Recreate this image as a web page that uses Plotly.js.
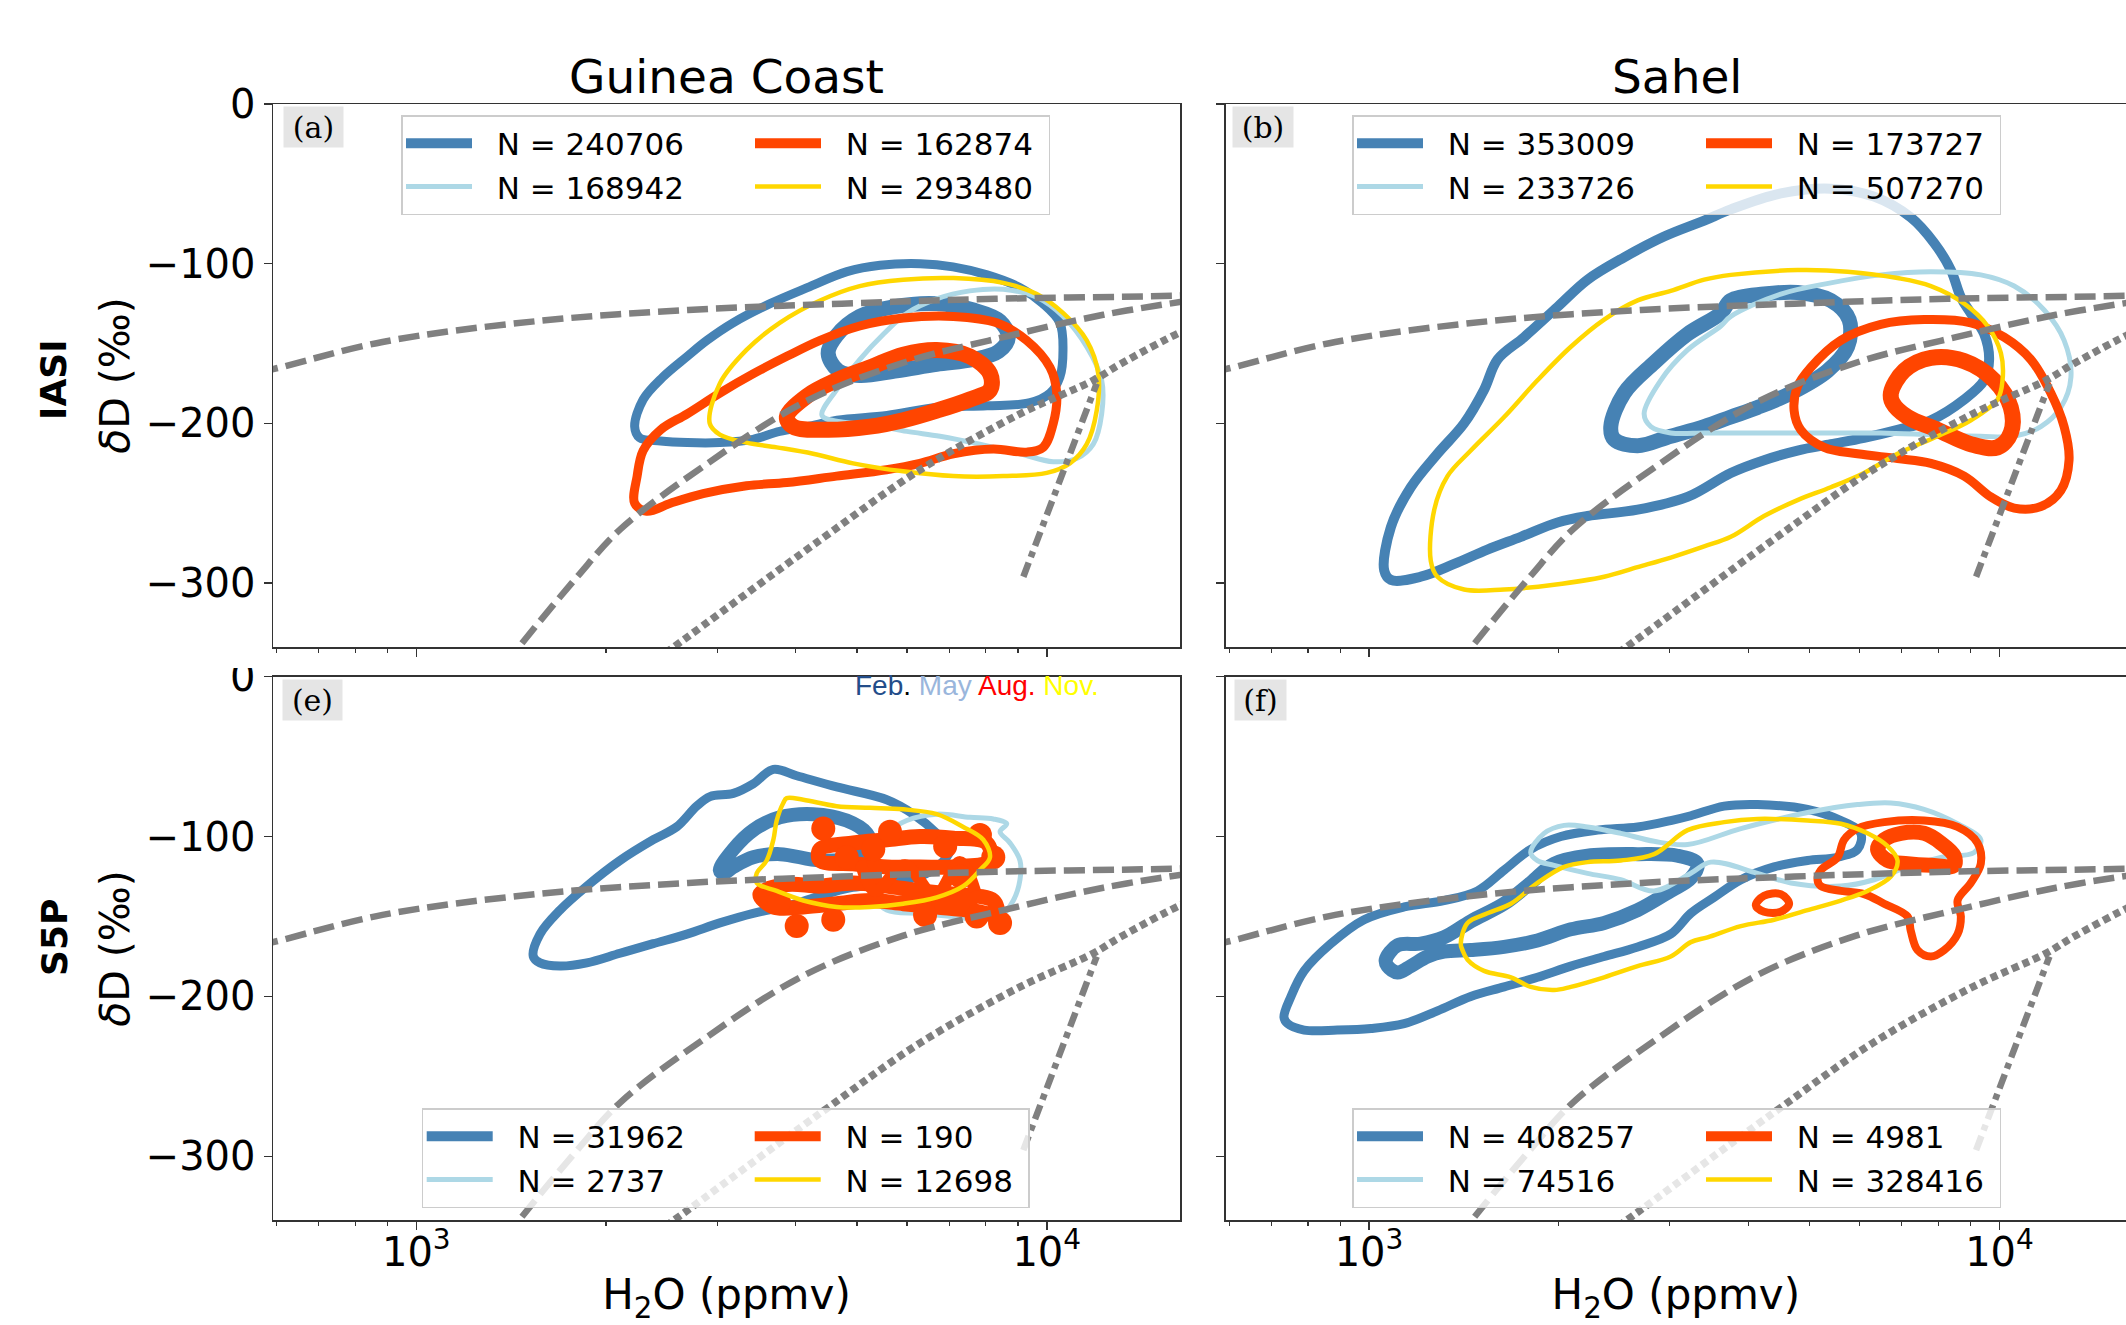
<!DOCTYPE html>
<html><head><meta charset="utf-8">
<script src="https://cdn.plot.ly/plotly-3.0.1.min.js"></script>
<style>html,body{margin:0;padding:0;background:#fff}</style>
</head><body>
<div id="chart" style="width:2126px;height:1325px"></div>
<script>
// ---------------- DATA (H2O in ppmv, deltaD in permil) ----------------
const seasons = ['Feb.', 'May', 'Aug.', 'Nov.'];
const legendA = ['N = 240706', 'N = 168942', 'N = 162874', 'N = 293480'];
const legendB = ['N = 353009', 'N = 233726', 'N = 173727', 'N = 507270'];
const legendE = ['N = 31962', 'N = 2737', 'N = 190', 'N = 12698'];
const legendF = ['N = 408257', 'N = 74516', 'N = 4981', 'N = 328416'];
const xTickVals = [1000, 10000];
const xTickText = ['10<sup>3</sup>', '10<sup>4</sup>'];
const xMinorVals = [600, 700, 800, 900, 2000, 3000, 4000, 5000, 6000, 7000, 8000, 9000, 20000];
const yTickVals = [0, -100, -200, -300];

// reference curves (grey)
const curveDashUpper_H2O = [560, 593, 884, 1550, 2700, 4730, 8280, 16200, 17000];
const curveDashUpper_dD  = [-168, -166, -149, -136, -129, -125, -122, -120, -119.5];
const curveDashLower_H2O = [1380, 1455, 1800, 2110, 2850, 4110, 5920, 8530, 12290, 16270, 17000];
const curveDashLower_dD  = [-352, -340, -296, -266, -227, -187, -162, -146, -132, -124, -123];
const curveDotted_H2O = [2320, 2560, 4370, 6300, 9070, 11850, 13060, 16270, 17000];
const curveDotted_dD  = [-352, -340, -273, -229, -194, -173, -163, -143, -140];
const curveDashDot_H2O = [9180, 12000];
const curveDashDot_dD  = [-296, -175];

// (a) IASI Guinea Coast
const a_feb_outer_H2O = [2220, 2290, 2460, 2690, 2890, 3180, 3640, 4170, 4820, 5440, 6300, 7100, 8040, 9070, 9860, 10490, 10610, 10490, 10120, 9410, 8040, 6700, 5580, 4650, 4170, 3770, 3420, 3030, 2690, 2440, 2260, 2220];
const a_feb_outer_dD  = [-202, -185, -171, -158, -148, -137, -125, -115, -105, -101, -100, -102, -107, -115, -125, -137, -154, -171, -181, -187, -189, -190, -195, -198, -202, -205, -210, -212, -212, -211, -209, -202];
const a_feb_inner_H2O = [4500, 4640, 5050, 5710, 6690, 7650, 8430, 8690, 8380, 7650, 6690, 5780, 5050, 4670, 4500];
const a_feb_inner_dD  = [-156, -145, -133, -127, -125, -129, -136, -146, -155, -160, -163, -167, -170, -167, -156];
const a_may_H2O = [4400, 4640, 5050, 5510, 6000, 6690, 7550, 8530, 9640, 10620, 11570, 12220, 12220, 11850, 11150, 10240, 9070, 7830, 6770, 6000, 5310, 4700, 4400];
const a_may_dD  = [-195, -179, -160, -144, -131, -122, -117, -116, -121, -133, -152, -173, -194, -213, -222, -224, -219, -213, -208, -205, -201, -199, -195];
const a_aug_outer_H2O = [2220, 2240, 2290, 2440, 2690, 3030, 3420, 3870, 4370, 5050, 5920, 7110, 8330, 9290, 10120, 10370, 10240, 9870, 9290, 8230, 7110, 6290, 5570, 4640, 3870, 3340, 2850, 2530, 2320, 2220];
const a_aug_outer_dD  = [-250, -233, -217, -204, -194, -181, -169, -158, -148, -139, -134, -133, -137, -148, -165, -181, -200, -215, -218, -216, -219, -225, -229, -233, -237, -239, -244, -250, -255, -250];
const a_aug_inner_H2O = [3870, 4160, 4640, 5240, 5920, 6690, 7550, 8130, 8130, 7550, 6690, 5920, 5240, 4480, 3960, 3870];
const a_aug_inner_dD  = [-196, -183, -173, -165, -157, -154, -158, -169, -179, -185, -192, -198, -202, -204, -202, -196];
const a_nov_H2O = [2920, 3030, 3340, 3770, 4370, 5050, 5920, 7110, 8530, 9640, 10620, 11570, 12070, 12000, 11570, 10880, 10000, 8530, 7110, 5920, 4930, 4260, 3730, 3340, 3030, 2920];
const a_nov_dD  = [-200, -175, -154, -137, -123, -114, -110, -109, -112, -119, -131, -148, -169, -192, -213, -225, -231, -233, -233, -230, -225, -219, -215, -212, -207, -200];

// (b) IASI Sahel
const b_feb_outer_H2O = [1057, 1083, 1165, 1284, 1415, 1522, 1599, 1762, 1991, 2221, 2539, 2938, 3401, 3748, 4499, 5401, 6326, 7232, 7877, 8373, 8684, 9006, 9454, 9627, 9454, 8790, 7783, 6891, 6098, 5401, 4782, 4232, 3748, 3200, 2667, 2221, 1991, 1741, 1541, 1365, 1208, 1083, 1057];
const b_feb_outer_dD  = [-292, -265, -240, -219, -200, -179, -160, -146, -127, -110, -96, -83, -73, -66, -56, -53, -58, -71, -87, -104, -121, -131, -144, -160, -173, -185, -198, -204, -209, -213, -217, -223, -231, -246, -254, -258, -262, -271, -279, -288, -296, -298, -292];
const b_feb_inner_H2O = [2418, 2539, 2833, 3201, 3614, 3748, 4232, 4782, 5401, 5774, 5741, 5337, 4667, 4132, 3748, 3401, 3010, 2667, 2448, 2418];
const b_feb_inner_dD  = [-202, -181, -162, -144, -131, -123, -119, -118, -123, -135, -152, -167, -181, -190, -196, -202, -208, -214, -210, -202];
const b_may_H2O = [2731, 2902, 3201, 3614, 3748, 4499, 5401, 6482, 7783, 9340, 10550, 11770, 12660, 12980, 12510, 11630, 10550, 9340, 7783, 6482, 5401, 4499, 3748, 3401, 3010, 2799, 2731];
const b_may_dD  = [-194, -173, -154, -139, -133, -119, -112, -107, -105, -107, -114, -129, -148, -171, -190, -202, -208, -208, -207, -206, -206, -206, -206, -206, -206, -202, -194];
const b_aug_outer_H2O = [4723, 4782, 5019, 5602, 6482, 7593, 9006, 10170, 11210, 12060, 12660, 12890, 12510, 11630, 10550, 9687, 8790, 7783, 6891, 5954, 5271, 4839, 4723];
const b_aug_outer_dD  = [-192, -177, -165, -148, -138, -135, -137, -146, -160, -181, -202, -223, -242, -252, -253, -246, -233, -225, -222, -219, -215, -204, -192];
const b_aug_inner_H2O = [6725, 7059, 7783, 8790, 9804, 10420, 10420, 9927, 9006, 7976, 7147, 6767, 6725];
const b_aug_inner_dD  = [-181, -167, -159, -161, -173, -190, -206, -215, -213, -204, -196, -187, -181];
const b_nov_H2O = [1253, 1269, 1332, 1450, 1638, 1850, 2090, 2360, 2667, 3010, 3401, 3748, 4782, 5741, 6891, 7783, 8790, 9572, 10050, 10110, 9927, 9006, 7976, 6891, 6098, 5401, 4782, 4232, 3748, 3401, 3010, 2667, 2360, 1966, 1638, 1415, 1284, 1253];
const b_nov_dD  = [-286, -254, -233, -217, -196, -173, -152, -135, -123, -117, -110, -107, -104, -105, -109, -114, -125, -139, -156, -173, -185, -198, -208, -219, -231, -240, -248, -258, -271, -277, -284, -290, -296, -301, -304, -304, -296, -286];

// (e) S5P Guinea Coast
const e_feb_outer_H2O = [1533, 1571, 1690, 1864, 2104, 2376, 2588, 2784, 2923, 3183, 3422, 3684, 4012, 4643, 5574, 6142, 6691, 7022, 6527, 5439, 4874, 4368, 3915, 3422, 3030, 2686, 2376, 2104, 1864, 1690, 1571, 1533];
const e_feb_outer_dD  = [-175, -161, -146, -131, -115, -102, -94, -81, -75, -73, -67, -58, -62, -69, -77, -86, -98, -108, -122, -130, -132, -137, -143, -148, -154, -161, -167, -173, -179, -181, -179, -175];
const e_feb_inner_H2O = [3030, 3183, 3422, 3774, 4263, 4815, 5181, 5243, 4933, 4368, 3774, 3422, 3183, 3068, 3030];
const e_feb_inner_dD  = [-121, -108, -96, -88, -86, -90, -98, -106, -113, -115, -111, -113, -119, -123, -121];
const e_may_H2O = [5574, 5995, 6691, 7554, 8225, 8639, 8431, 8743, 9068, 9068, 8850, 8431, 7834, 7108, 6290, 5574, 5306, 5243, 5373, 5574];
const e_may_dD  = [-98, -90, -86, -88, -89, -92, -97, -104, -115, -127, -140, -150, -152, -150, -148, -146, -136, -121, -106, -98];
const e_aug_loop1_H2O = [4368, 4933, 5574, 6290, 7108, 8029, 8126, 7108, 6290, 5574, 4933, 4368, 4368];
const e_aug_loop1_dD  = [-108, -104, -102, -100, -101, -104, -115, -119, -119, -119, -117, -115, -108];
const e_aug_loop2_H2O = [3508, 3868, 4368, 4933, 5574, 6290, 7108, 8225, 8328, 7554, 6691, 5921, 5243, 4643, 4110, 3684, 3508];
const e_aug_loop2_dD  = [-136, -130, -131, -129, -131, -134, -136, -140, -148, -146, -144, -142, -140, -142, -144, -144, -136];
const e_aug_loop3_H2O = [5054, 5340, 5957, 6649, 7286, 7694];
const e_aug_loop3_dD  = [-115, -134, -118, -137, -116, -134];
const e_aug_spots_H2O = [4421, 5641, 7834, 4012, 4585, 6411, 7741, 8431, 3639, 8225, 4815, 5306, 3760, 6900, 7300];
const e_aug_spots_dD  = [-95, -97, -99, -156, -152, -149, -150, -154, -136, -113, -113, -108, -141, -106, -125];
const e_nov_H2O = [3820, 3868, 4110, 4643, 5243, 5921, 6691, 7371, 7930, 8126, 7834, 7371, 6691, 5921, 5243, 4643, 4110, 3729, 3467, 3467, 3595, 3684, 3729, 3820];
const e_nov_dD  = [-79, -76, -77, -81, -82, -83, -86, -94, -102, -113, -121, -131, -138, -142, -144, -144, -140, -134, -129, -123, -115, -102, -90, -79];

// (f) S5P Sahel
const f_feb_outer_H2O = [733, 752, 789, 870, 982, 1137, 1315, 1486, 1638, 1805, 2015, 2304, 2667, 3010, 3239, 3658, 4132, 4961, 5602, 6026, 5954, 5535, 4961, 4390, 3889, 3527, 3239, 3010, 2667, 2360, 2090, 1850, 1638, 1450, 1284, 1137, 1007, 891, 789, 743, 733];
const f_feb_outer_dD  = [-213, -200, -184, -167, -152, -144, -140, -134, -121, -108, -100, -96, -94, -90, -87, -81, -80, -83, -90, -98, -108, -113, -115, -119, -127, -138, -148, -161, -169, -175, -181, -188, -194, -200, -209, -217, -220, -221, -221, -217, -213];
const f_feb_inner_H2O = [1063, 1110, 1208, 1315, 1450, 1638, 1805, 1966, 2221, 2667, 3085, 3319, 3239, 3010, 2667, 2360, 2090, 1850, 1638, 1450, 1315, 1238, 1165, 1110, 1070, 1063];
const f_feb_inner_dD  = [-177, -168, -167, -163, -153, -142, -129, -117, -112, -111, -112, -117, -126, -134, -146, -154, -158, -165, -169, -171, -172, -175, -181, -185, -181, -177];
const f_may_H2O = [1805, 1895, 2039, 2221, 2508, 2833, 3201, 3889, 4961, 5954, 6725, 7593, 8579, 9340, 9115, 8071, 7147, 6326, 5602, 4667, 4132, 3484, 3239, 2833, 2508, 2221, 1966, 1850, 1805];
const f_may_dD  = [-110, -98, -93, -94, -98, -103, -105, -95, -85, -80, -79, -83, -92, -102, -110, -113, -119, -127, -131, -129, -123, -116, -123, -134, -127, -123, -118, -115, -110];
const f_aug_outer_H2O = [5144, 5207, 5535, 5669, 5954, 6561, 7593, 8579, 9228, 9340, 9006, 8579, 8684, 8579, 8170, 7783, 7413, 7232, 7147, 6561, 6098, 5602, 5207, 5144];
const f_aug_outer_dD  = [-127, -121, -113, -102, -95, -91, -90, -94, -104, -117, -129, -140, -150, -161, -171, -175, -171, -159, -150, -142, -136, -134, -131, -127];
const f_aug_inner_H2O = [6405, 6561, 6976, 7593, 8071, 8472, 8472, 7783, 7147, 6643, 6405];
const f_aug_inner_dD  = [-108, -102, -98, -98, -104, -112, -118, -118, -117, -115, -108];
const f_aug_small_H2O = [4107, 4232, 4499, 4637, 4499, 4232, 4107];
const f_aug_small_dD  = [-143, -137, -136, -142, -147, -147, -143];
const f_nov_H2O = [1398, 1433, 1541, 1679, 1850, 2039, 2221, 2508, 2833, 3201, 3658, 4132, 4961, 5602, 6175, 6643, 6891, 6725, 6175, 5602, 4961, 4390, 3889, 3443, 3239, 3010, 2667, 2360, 2090, 1966, 1805, 1679, 1522, 1433, 1407, 1398];
const f_nov_dD  = [-167, -154, -148, -142, -129, -119, -116, -115, -111, -96, -91, -89, -90, -92, -98, -106, -115, -125, -134, -140, -146, -152, -156, -163, -166, -175, -181, -188, -194, -196, -194, -188, -184, -177, -171, -167];

// ---------------- STYLE ----------------
const C_FEB = '#4682B4', C_MAY = '#ADD8E6', C_AUG = '#FF4500', C_NOV = '#FFD700', C_GREY = '#808080';
const W = 2126, H = 1325;
const FONT = 'DejaVu Sans, Liberation Sans, sans-serif';
const GAP = '\u00A0\u00A0';

const panels = {
  a: {x: 'x',  y: 'y',  legend: 'legend',  id: 'a', lw: [268, 217]},
  b: {x: 'x2', y: 'y2', legend: 'legend2', id: 'b', lw: [268, 217]},
  e: {x: 'x3', y: 'y3', legend: 'legend3', id: 'e', lw: [247, 197]},
  f: {x: 'x4', y: 'y4', legend: 'legend4', id: 'f', lw: [268, 217]}
};

function line(p, x, y, color, width, extra) {
  return Object.assign({
    type: 'scatter', mode: 'lines', x: x, y: y, xaxis: p.x, yaxis: p.y,
    line: {color: color, width: width, shape: 'spline', smoothing: 1},
    showlegend: false, hoverinfo: 'skip'
  }, extra || {});
}
function leg(p, name, col) {
  return {showlegend: true, name: GAP + name, legend: p.legend, legendgroup: p.id + 'g' + col,
          legendwidth: p.lw[col - 1]};
}
function greyCurves(p) {
  return [
    line(p, curveDashUpper_H2O, curveDashUpper_dD, C_GREY, 6, {line: {color: C_GREY, width: 6.5, dash: '21px,8px', shape: 'spline'}}),
    line(p, curveDashLower_H2O, curveDashLower_dD, C_GREY, 6, {line: {color: C_GREY, width: 6.5, dash: '21px,8px', shape: 'spline'}}),
    line(p, curveDotted_H2O, curveDotted_dD, C_GREY, 6, {line: {color: C_GREY, width: 7.5, dash: '7px,4.5px', shape: 'spline'}}),
    line(p, curveDashDot_H2O, curveDashDot_dD, C_GREY, 6, {line: {color: C_GREY, width: 6.5, dash: '15px,6px,6px,6px'}})
  ];
}

const traces = [];
// (a)
(function () {
  const p = panels.a, L = legendA;
  traces.push(line(p, a_feb_outer_H2O, a_feb_outer_dD, C_FEB, 9));
  traces.push(line(p, a_feb_inner_H2O, a_feb_inner_dD, C_FEB, 15, leg(p, L[0], 1)));
  traces.push(line(p, a_may_H2O, a_may_dD, C_MAY, 5, leg(p, L[1], 1)));
  traces.push(line(p, a_aug_outer_H2O, a_aug_outer_dD, C_AUG, 9));
  traces.push(line(p, a_aug_inner_H2O, a_aug_inner_dD, C_AUG, 16, leg(p, L[2], 2)));
  traces.push(line(p, a_nov_H2O, a_nov_dD, C_NOV, 4.5, leg(p, L[3], 2)));
  traces.push(...greyCurves(p));
})();
// (b)
(function () {
  const p = panels.b, L = legendB;
  traces.push(line(p, b_feb_outer_H2O, b_feb_outer_dD, C_FEB, 10));
  traces.push(line(p, b_feb_inner_H2O, b_feb_inner_dD, C_FEB, 15, leg(p, L[0], 1)));
  traces.push(line(p, b_may_H2O, b_may_dD, C_MAY, 5, leg(p, L[1], 1)));
  traces.push(line(p, b_aug_outer_H2O, b_aug_outer_dD, C_AUG, 9));
  traces.push(line(p, b_aug_inner_H2O, b_aug_inner_dD, C_AUG, 16, leg(p, L[2], 2)));
  traces.push(line(p, b_nov_H2O, b_nov_dD, C_NOV, 4.5, leg(p, L[3], 2)));
  traces.push(...greyCurves(p));
})();
// (e)
(function () {
  const p = panels.e, L = legendE;
  traces.push(line(p, e_feb_outer_H2O, e_feb_outer_dD, C_FEB, 9));
  traces.push(line(p, e_feb_inner_H2O, e_feb_inner_dD, C_FEB, 14, leg(p, L[0], 1)));
  traces.push(line(p, e_may_H2O, e_may_dD, C_MAY, 5, leg(p, L[1], 1)));
  traces.push(line(p, e_aug_loop1_H2O, e_aug_loop1_dD, C_AUG, 15, leg(p, L[2], 2)));
  traces.push(line(p, e_aug_loop2_H2O, e_aug_loop2_dD, C_AUG, 15));
  traces.push(line(p, e_aug_loop3_H2O, e_aug_loop3_dD, C_AUG, 12));
  traces.push({type: 'scatter', mode: 'markers', x: e_aug_spots_H2O, y: e_aug_spots_dD, xaxis: p.x, yaxis: p.y,
               marker: {color: C_AUG, size: 24}, showlegend: false, hoverinfo: 'skip'});
  traces.push(line(p, e_nov_H2O, e_nov_dD, C_NOV, 4.5, leg(p, L[3], 2)));
  traces.push(...greyCurves(p));
})();
// (f)
(function () {
  const p = panels.f, L = legendF;
  traces.push(line(p, f_feb_outer_H2O, f_feb_outer_dD, C_FEB, 9));
  traces.push(line(p, f_feb_inner_H2O, f_feb_inner_dD, C_FEB, 14, leg(p, L[0], 1)));
  traces.push(line(p, f_may_H2O, f_may_dD, C_MAY, 5, leg(p, L[1], 1)));
  traces.push(line(p, f_aug_outer_H2O, f_aug_outer_dD, C_AUG, 8));
  traces.push(line(p, f_aug_inner_H2O, f_aug_inner_dD, C_AUG, 15, leg(p, L[2], 2)));
  traces.push(line(p, f_aug_small_H2O, f_aug_small_dD, C_AUG, 8));
  traces.push(line(p, f_nov_H2O, f_nov_dD, C_NOV, 4.5, leg(p, L[3], 2)));
  traces.push(...greyCurves(p));
})();

// ---------------- LAYOUT ----------------
const colL = [273 / W, 1180 / W], colR = [1225.7 / W, 1];
const rowT = [1 - 647 / H, 1 - 104 / H], rowB = [1 - 1220.4 / H, 1 - 676.6 / H];
const xRangeL = [2.7727, 4.2113], xRangeR = [2.7727, 4.2006];

function xAxis(domain, range, anchor, labels) {
  const ax = {
    type: 'log', domain: domain, range: range, anchor: anchor,
    showline: true, linecolor: '#333', linewidth: 1.5, mirror: true,
    ticks: 'outside', ticklen: 8, tickwidth: 1.5, tickcolor: '#333',
    tickmode: 'array', tickvals: xTickVals, ticktext: xTickText, showticklabels: labels,
    ticklabelstandoff: -12,
    tickfont: {family: FONT, size: 40, color: '#000'},
    minor: {tickmode: 'array', tickvals: xMinorVals, ticks: 'outside', ticklen: 4, tickwidth: 1.2, tickcolor: '#333', showgrid: false},
    showgrid: false, zeroline: false, automargin: false, fixedrange: true
  };
  if (labels) ax.title = {text: 'H<sub>2</sub>O (ppmv)', font: {family: FONT, size: 42, color: '#000'}, standoff: 37};
  return ax;
}
function yAxis(domain, anchor, labels) {
  const ax = {
    range: [-340, 0], domain: domain, anchor: anchor,
    showline: true, linecolor: '#333', linewidth: 1.5, mirror: labels,
    ticks: 'outside', ticklen: 8, tickwidth: 1.5, tickcolor: '#333',
    tickmode: 'array', tickvals: yTickVals, showticklabels: labels,
    tickfont: {family: FONT, size: 40, color: '#000'},
    showgrid: false, zeroline: false, automargin: false, fixedrange: true
  };
  if (labels) ax.title = {text: '<i>δ</i>D (‰)', font: {family: FONT, size: 41, color: '#000'}, standoff: 3};
  return ax;
}
function legendBox(x, y) {
  return {x: x, y: y, xanchor: 'left', yanchor: 'top', orientation: 'h', traceorder: 'grouped',
          bgcolor: 'rgba(255,255,255,0.8)', bordercolor: '#cccccc', borderwidth: 1.5,
          font: {family: FONT, size: 31, color: '#000'}, itemwidth: 66, tracegroupgap: 0};
}
function panelLabel(txt, xc, yc, w) {
  return {text: txt, xref: 'paper', yref: 'paper', x: xc / W, y: 1 - yc / H, xanchor: 'center', yanchor: 'middle',
          showarrow: false, font: {family: 'DejaVu Serif, serif', size: 30, color: '#000'},
          bgcolor: '#e5e5e5', width: w, height: 36, borderpad: 2};
}

const layout = {
  width: W, height: H, autosize: false,
  margin: {l: 0, r: 0, t: 0, b: 0, pad: 0, autoexpand: false},
  paper_bgcolor: '#fff', plot_bgcolor: '#fff',
  font: {family: FONT, color: '#000'},
  xaxis: xAxis(colL, xRangeL, 'y', false),
  yaxis: yAxis(rowT, 'x', true),
  xaxis2: xAxis(colR, xRangeR, 'y2', false),
  yaxis2: yAxis(rowT, 'x2', false),
  xaxis3: xAxis(colL, xRangeL, 'y3', true),
  yaxis3: yAxis(rowB, 'x3', true),
  xaxis4: xAxis(colR, xRangeR, 'y4', true),
  yaxis4: yAxis(rowB, 'x4', false),
  legend: legendBox(401 / W, 1 - 115 / H),
  legend2: legendBox(1352 / W, 1 - 115 / H),
  legend3: legendBox(421.7 / W, 1 - 1108 / H),
  legend4: legendBox(1352 / W, 1 - 1108 / H),
  shapes: [
    // the top of the lower-left panel's "0" label is hidden in the reference
    {type: 'rect', xref: 'paper', yref: 'paper', x0: 225 / W, x1: 268 / W, y0: 1 - 668 / H, y1: 1 - 652 / H,
     fillcolor: '#fff', line: {width: 0}, layer: 'above'}
  ],
  annotations: [
    {text: 'Guinea Coast', xref: 'paper', yref: 'paper', x: 726 / W, y: 1 - 77 / H, xanchor: 'center', yanchor: 'middle',
     showarrow: false, font: {family: FONT, size: 47, color: '#000'}},
    {text: 'Sahel', xref: 'paper', yref: 'paper', x: 1677 / W, y: 1 - 77 / H, xanchor: 'center', yanchor: 'middle',
     showarrow: false, font: {family: FONT, size: 47, color: '#000'}},
    {text: '<b>IASI</b>', xref: 'paper', yref: 'paper', x: 54 / W, y: 1 - 380 / H, xanchor: 'center', yanchor: 'middle',
     textangle: -90, showarrow: false, font: {family: FONT, size: 36, color: '#000'}},
    {text: '<b>S5P</b>', xref: 'paper', yref: 'paper', x: 54 / W, y: 1 - 938 / H, xanchor: 'center', yanchor: 'middle',
     textangle: -90, showarrow: false, font: {family: FONT, size: 36, color: '#000'}},
    panelLabel('(a)', 313.4, 127, 55),
    panelLabel('(b)', 1263, 127, 56),
    panelLabel('(e)', 312.5, 700, 55),
    panelLabel('(f)', 1260, 700, 47),
    {text: "<span style='color:#234d8a'>" + seasons[0].replace('.', '') + "</span>. " +
           "<span style='color:#9ab6dc'>" + seasons[1] + "</span> " +
           "<span style='color:#ff0000'>" + seasons[2] + "</span> " +
           "<span style='color:#ffff00'>" + seasons[3] + "</span>",
     xref: 'paper', yref: 'paper', x: 976.5 / W, y: 1 - 685 / H, xanchor: 'center', yanchor: 'middle',
     showarrow: false, font: {family: 'Liberation Sans, Arial, sans-serif', size: 28, color: '#000'}}
  ]
};

Plotly.newPlot('chart', traces, layout, {displayModeBar: false, staticPlot: true});
</script>
</body></html>
